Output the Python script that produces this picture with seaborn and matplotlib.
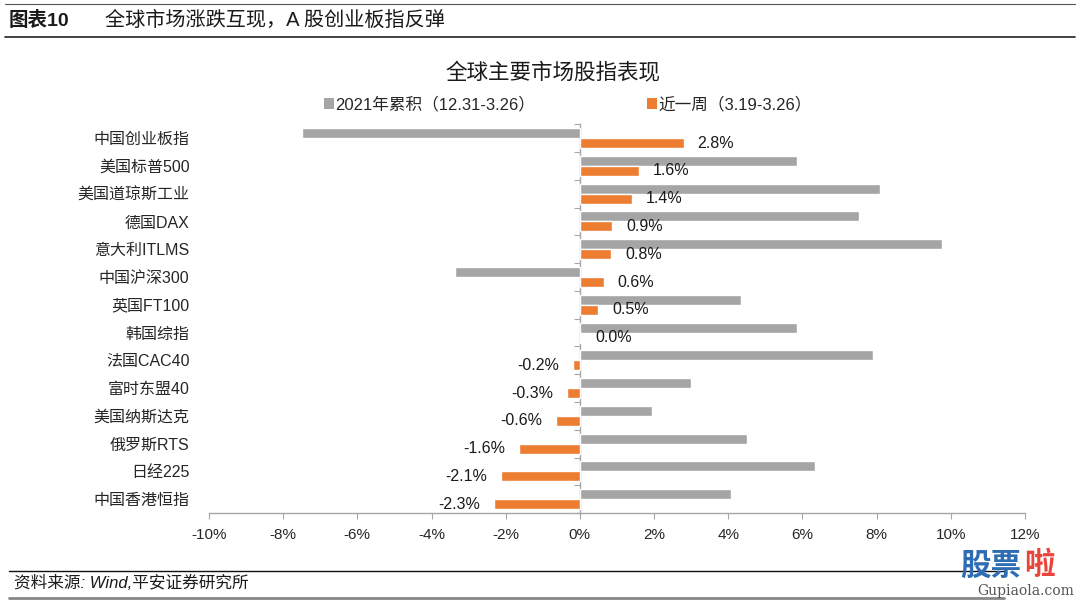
import numpy as np
import pandas as pd
import matplotlib
matplotlib.use("Agg")
import matplotlib.pyplot as plt
from matplotlib.lines import Line2D
from matplotlib.patches import Patch
import seaborn as sns

# ------------------- data ------------------- #
markets = ["中国创业板指", "美国标普500", "美国道琼斯工业", "德国DAX", "意大利ITLMS",
           "中国沪深300", "英国FT100", "韩国综指", "法国CAC40", "富时东盟40",
           "美国纳斯达克", "俄罗斯RTS", "日经225", "中国香港恒指"]
ytd_2021 = [-7.49, 5.85, 8.09, 7.52, 9.76, -3.37, 4.34, 5.86, 7.90, 2.99,
            1.94, 4.50, 6.33, 4.07]
last_week = [2.80, 1.59, 1.40, 0.87, 0.84, 0.64, 0.49, 0.04, -0.19, -0.34,
             -0.64, -1.64, -2.12, -2.31]
week_labels = ["2.8%", "1.6%", "1.4%", "0.9%", "0.8%", "0.6%", "0.5%", "0.0%",
               "-0.2%", "-0.3%", "-0.6%", "-1.6%", "-2.1%", "-2.3%"]
series_names = ["2021年累积（12.31-3.26）", "近一周（3.19-3.26）"]
x_ticks = [-10, -8, -6, -4, -2, 0, 2, 4, 6, 8, 10, 12]

gray = "#A5A5A5"
orange = "#ED7D31"

df = pd.DataFrame({
    "市场": markets * 2,
    "值": ytd_2021 + last_week,
    "系列": [series_names[0]] * len(markets) + [series_names[1]] * len(markets),
})

# ------------------- style ------------------- #
sns.set_style("white")
plt.rcParams["font.family"] = ["Liberation Sans", "Noto Sans CJK SC", "DejaVu Sans"]
plt.rcParams["axes.unicode_minus"] = False

fig = plt.figure(figsize=(10.8, 6.03), dpi=100)
ax = fig.add_axes([0.1935, 0.149, 0.7555, 0.645])

sns.barplot(data=df, y="市场", x="值", hue="系列", hue_order=series_names,
            palette=[gray, orange], width=0.72, ax=ax, legend=False,
            saturation=1, orient="h")

# labels on the weekly bars
ax.bar_label(ax.containers[1], labels=week_labels, padding=10, fontsize=11.5,
             color="#1a1a1a")

ax.set_xlim(x_ticks[0], x_ticks[-1])
ax.set_xticks(x_ticks)
ax.set_xticklabels([f"{t}%" for t in x_ticks], fontsize=11)
ax.set_xlabel("")
ax.set_ylabel("")
ax.tick_params(axis="y", length=0, pad=14, labelsize=11.5)
ax.tick_params(axis="x", direction="out", length=4, color="#A6A6A6", pad=7,
               bottom=True)

for s in ["top", "right", "left"]:
    ax.spines[s].set_visible(False)
ax.spines["bottom"].set_color("#A6A6A6")
ax.spines["bottom"].set_linewidth(1.0)

# zero axis with category boundary ticks
zero_pos = (0 - x_ticks[0]) / (x_ticks[-1] - x_ticks[0])
sec = ax.secondary_yaxis(zero_pos)
sec.set_yticks(np.arange(len(markets) + 1) - 0.5)
sec.set_yticklabels([])
sec.tick_params(direction="out", length=4, color="#A6A6A6")
sec.spines["left"].set_color("#A6A6A6")
sec.spines["left"].set_linewidth(1.0)
for s in ["top", "right", "bottom"]:
    sec.spines[s].set_visible(False)

# title and legend
fig.text(0.512, 0.879, "全球主要市场股指表现", ha="center", va="center",
         fontsize=15.5, color="#1a1a1a")
handles = [Patch(facecolor=gray, edgecolor="none"),
           Patch(facecolor=orange, edgecolor="none")]
fig.legend(handles, series_names, loc="center", bbox_to_anchor=(0.526, 0.827),
           ncol=2, frameon=False, fontsize=12, handlelength=0.6,
           handleheight=0.6, handletextpad=0.1, columnspacing=6.7)

# header
fig.add_artist(Line2D([0.005, 0.995], [0.994, 0.994], color="#555555", lw=0.8))
fig.add_artist(Line2D([0.005, 0.995], [0.938, 0.938], color="#222222", lw=1.2))
fig.text(0.008, 0.966, "图表10", ha="left", va="center", fontsize=14,
         fontweight="bold", color="#1a1a1a")
fig.text(0.097, 0.966, "全球市场涨跌互现，A 股创业板指反弹", ha="left",
         va="center", fontsize=14.5, color="#1a1a1a")

# footer
fig.add_artist(Line2D([0.008, 0.93], [0.053, 0.053], color="#111111", lw=1.0))
fig.text(0.013, 0.033, "资料来源: Wind,平安证券研究所", ha="left", va="center",
         fontsize=12, style="italic", color="#1a1a1a")
fig.add_artist(Line2D([0.008, 0.93], [0.008, 0.008], color="#888888", lw=2.0))

# watermark
fig.text(0.889, 0.036, "股票", ha="left", va="bottom", fontsize=22,
         fontweight="bold", color="#2E6DB4")
fig.text(0.948, 0.036, "啦", ha="left", va="bottom", fontsize=22,
         fontweight="bold", color="#E8443A")
fig.text(0.995, 0.008, "Gupiaola.com", ha="right", va="bottom", fontsize=10,
         family="DejaVu Serif", color="#555555")

fig.savefig("out.png", dpi=100)
